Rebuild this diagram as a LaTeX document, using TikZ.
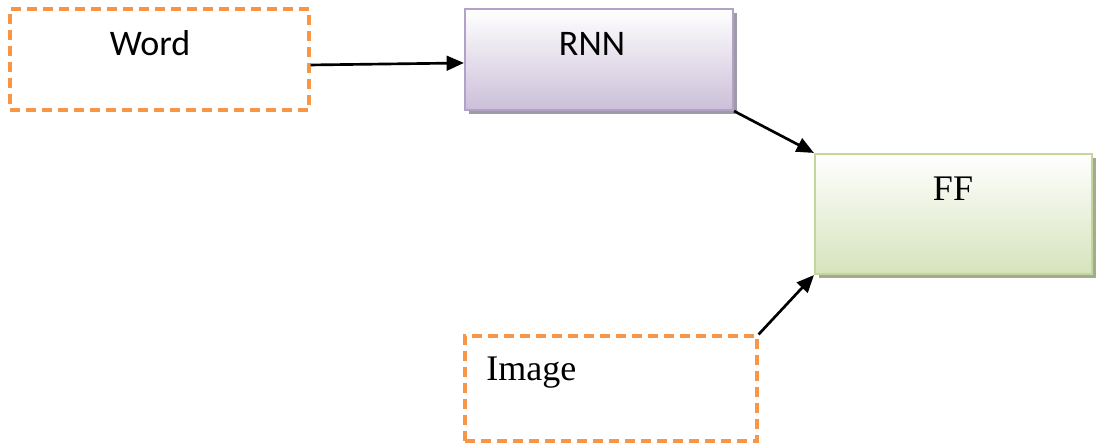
\documentclass[tikz,border=0pt]{standalone}
\usepackage{fontspec}
\setmainfont{Liberation Serif}
\newfontfamily\calib{Carlito}
\usetikzlibrary{arrows.meta,shadows}

\definecolor{dashorange}{HTML}{F79646}
\definecolor{rnnedge}{HTML}{B3A2C7}
\definecolor{rnnfill}{HTML}{CBBFD8}
\definecolor{rnnshade}{HTML}{9F99A8}
\definecolor{ffedge}{HTML}{C3D69B}
\definecolor{fffill}{HTML}{D6E3BC}
\definecolor{ffshade}{HTML}{A4AA8F}

\tikzset{
  inputbox/.style={draw=dashorange, line width=2.3pt,
    dash pattern=on 7.5pt off 4.5pt, rectangle, inner sep=0pt},
  layerbox/.style={rectangle, inner sep=0pt, line width=1.6pt},
  txt/.style={inner sep=0pt, anchor=base, font=\fontsize{27}{32}\selectfont},
  link/.style={line width=2pt, -{Triangle[length=13pt,width=11pt]}}
}

\begin{document}
\begin{tikzpicture}[x=0.75pt,y=-0.75pt]
  \useasboundingbox (0,0) rectangle (1096,443);

  % input boxes
  \node[inputbox, minimum width=224.25pt, minimum height=75.75pt] (word) at (159.5,59.5) {};
  \node[inputbox, minimum width=219pt, minimum height=78.75pt] (img) at (611,388.5) {};

  % recurrent layer
  \node[layerbox, draw=rnnedge, top color=white, bottom color=rnnfill,
        drop shadow={shadow xshift=3.2pt, shadow yshift=-3.2pt, fill=rnnshade, opacity=1},
        minimum width=201pt, minimum height=75.75pt] (rnn) at (599,59.5) {};

  % feed-forward layer
  \node[layerbox, draw=ffedge, top color=white, bottom color=fffill,
        drop shadow={shadow xshift=3.2pt, shadow yshift=-3.2pt, fill=ffshade, opacity=1},
        minimum width=207.75pt, minimum height=90pt] (ff) at (953.5,214) {};

  % labels
  \node[txt, font=\calib\fontsize{27}{32}\selectfont] (wordlbl) at (150,55) {Word};
  \node[txt, font=\calib\fontsize{27}{32}\selectfont] (rnnlbl) at (592,55) {RNN};
  \node[txt] (fflbl) at (953,200) {FF};
  \node[txt, anchor=base west] (imglbl) at (486,380) {Image};

  % connections
  \draw[link] ([yshift=-4.1pt]word.east) -- ([yshift=-2.6pt]rnn.west);
  \draw[link] (rnn.south east) -- (ff.north west);
  \draw[link] (img.north east) -- (ff.south west);
\end{tikzpicture}
\end{document}
